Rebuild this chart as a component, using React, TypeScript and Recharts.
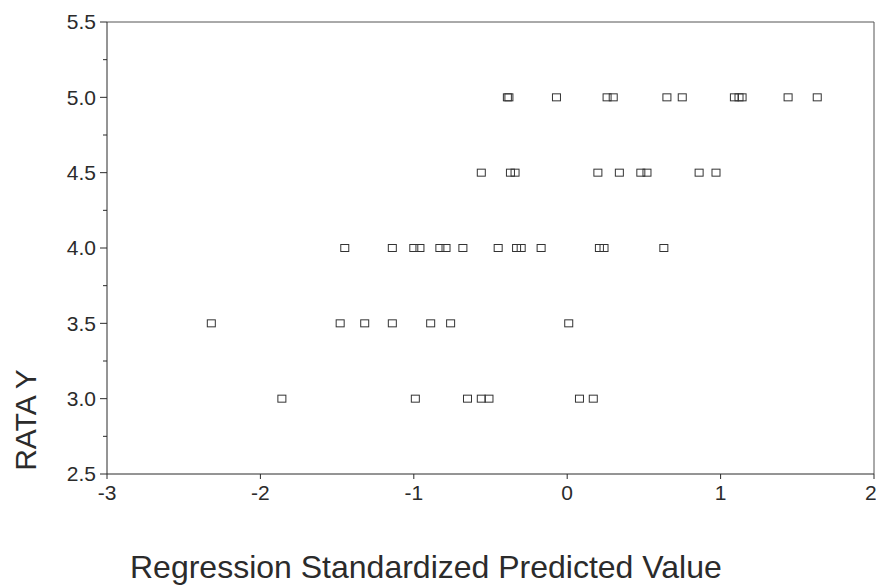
import React from 'react';
import { ScatterChart, Scatter, XAxis, YAxis, ReferenceLine, Label } from 'recharts';

// Regression standardized predicted value, grouped by observed RATA Y level
const rataLevels = [5.0, 4.5, 4.0, 3.5, 3.0];
const predAt50 = [-0.39, -0.38, -0.07, 0.26, 0.3, 0.65, 0.75, 1.09, 1.12, 1.14, 1.44, 1.63];
const predAt45 = [-0.56, -0.37, -0.34, 0.2, 0.34, 0.48, 0.52, 0.86, 0.97];
const predAt40 = [-1.45, -1.14, -1.0, -0.96, -0.83, -0.79, -0.68, -0.45, -0.33, -0.3, -0.17, 0.21, 0.24, 0.63];
const predAt35 = [-2.32, -1.48, -1.32, -1.14, -0.89, -0.76, 0.01];
const predAt30 = [-1.86, -0.99, -0.65, -0.56, -0.51, 0.08, 0.17];

const xTicks = [-3, -2, -1, 0, 1, 2];
const yTicks = [2.5, 2.75, 3, 3.25, 3.5, 3.75, 4, 4.25, 4.5, 4.75, 5, 5.25, 5.5];

const FONT = '"Liberation Sans", Arial, sans-serif';
const INK = '#2b2b2b';

const rows = [predAt50, predAt45, predAt40, predAt35, predAt30];
const points = rows.flatMap((xs, i) => xs.map((x) => ({ x, y: rataLevels[i] })));

// little hollow square like the SPSS marker
const HollowSquare = (props: any) => {
  const { cx, cy } = props;
  if (cx == null || cy == null) return null;
  return <rect x={cx - 4} y={cy - 3.5} width={8} height={7} fill="none" stroke="#333" strokeWidth={1} />;
};

const YTick = (props: any) => {
  const { x, y, payload } = props;
  const v = payload.value;
  const major = Math.abs(v * 2 - Math.round(v * 2)) < 1e-6;
  return (
    <g>
      <line x1={x + (major ? 4 : 7)} x2={x + 11} y1={y} y2={y} stroke={INK} strokeWidth={1} />
      {major && (
        <text x={x} y={y} dy="0.355em" textAnchor="end" fontSize={21} fill={INK} fontFamily={FONT}>
          {v.toFixed(1)}
        </text>
      )}
    </g>
  );
};

export default function App() {
  return (
    <div style={{ position: 'absolute', left: 0, top: 0, width: 876, height: 586, background: '#fff' }}>
      <ScatterChart width={876} height={586} margin={{ top: 22, right: 2, left: 0, bottom: 72 }}>
        <XAxis
          type="number"
          dataKey="x"
          domain={[-3, 2]}
          ticks={xTicks}
          allowDataOverflow
          height={40}
          stroke={INK}
          tickSize={5}
          tickMargin={6}
          tick={{ fontSize: 21, fill: INK, fontFamily: FONT }}
        >
          <Label
            content={(p: any) => (
              <text
                x={p.viewBox.x + 23}
                y={578}
                fontSize={32}
                fill={INK}
                fontFamily={FONT}
              >
                Regression Standardized Predicted Value
              </text>
            )}
          />
        </XAxis>
        <YAxis
          type="number"
          dataKey="y"
          domain={[2.5, 5.5]}
          ticks={yTicks}
          interval={0}
          allowDataOverflow
          width={107}
          stroke={INK}
          tickLine={false}
          tickSize={0}
          tickMargin={11}
          tick={<YTick />}
        >
          <Label
            content={() => (
              <text
                x={25}
                y={420}
                transform="rotate(-90 25 420)"
                textAnchor="middle"
                dominantBaseline="central"
                fontSize={30}
                fill={INK}
                fontFamily={FONT}
              >
                RATA Y
              </text>
            )}
          />
        </YAxis>
        <ReferenceLine y={5.5} stroke="#555" strokeWidth={1} />
        <ReferenceLine x={2} stroke="#555" strokeWidth={1} />
        <Scatter data={points} shape={<HollowSquare />} isAnimationActive={false} />
      </ScatterChart>
    </div>
  );
}
